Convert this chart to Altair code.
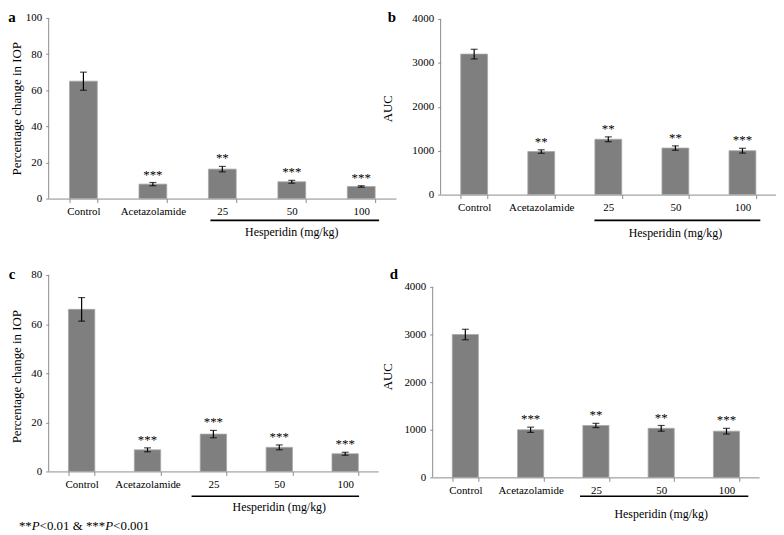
import altair as alt
import pandas as pd

categories = ["Control", "Acetazolamide", "25", "50", "100"]

a_mean = [65.0, 8.0, 16.3, 9.3, 6.7]
a_err = [5.0, 0.9, 1.5, 0.8, 0.4]
a_stars = ["", "***", "**", "***", "***"]

b_mean = [3200, 980, 1260, 1060, 1000]
b_err = [110, 40, 55, 50, 55]
b_stars = ["", "**", "**", "**", "***"]

c_mean = [66.0, 8.8, 15.2, 9.8, 7.2]
c_err = [4.8, 0.8, 1.5, 1.0, 0.6]
c_stars = ["", "***", "***", "***", "***"]

d_mean = [3000, 1000, 1090, 1030, 970]
d_err = [110, 55, 45, 60, 60]
d_stars = ["", "***", "**", "**", "***"]

iop_ticks_a = [0, 20, 40, 60, 80, 100]
iop_ticks_c = [0, 20, 40, 60, 80]
auc_ticks = [0, 1000, 2000, 3000, 4000]

iop_title = "Percentage change in IOP"
auc_title = "AUC"
group_label = "Hesperidin (mg/kg)"
group_from, group_mid, group_to = "25", "50", "100"
foot_parts = ["**", "P", "<0.01 & ***", "P", "<0.001"]
foot_styles = ["normal", "italic", "normal", "italic", "normal"]

FONT = "Liberation Serif"
AXIS_GRAY = "#8c8c8c"
BAR_GRAY = "#7f7f7f"


def panel(letter, mean, err, stars, ymax, ticks, ytitle, width, height,
          top_px, bottom_px, title_pad, line_y, line_dx0, line_dx1, label_y,
          letter_xy, extra=()):
    k = (bottom_px - top_px) / ymax
    lo_dom = (bottom_px - height) / k
    dom = [lo_dom if lo_dom < 0 else 0, ymax + top_px / k]
    df = pd.DataFrame({
        "cat": categories,
        "mean": mean,
        "lo": [m - e for m, e in zip(mean, err)],
        "hi": [m + e for m, e in zip(mean, err)],
        "star": stars,
    })
    xscale = alt.Scale(domain=categories, paddingInner=0.6, paddingOuter=0.3)
    yscale = alt.Scale(domain=dom, nice=False, zero=False)
    xaxis = alt.Axis(title=None, labelAngle=0, tickBand="extent",
                     domainColor=AXIS_GRAY, tickColor=AXIS_GRAY, tickSize=4,
                     labelFont=FONT, labelFontSize=11, labelColor="black",
                     labelPadding=3, offset=bottom_px - height, grid=False)
    yaxis = alt.Axis(title=ytitle, values=ticks, tickCount=len(ticks),
                     grid=False, domain=False, format="d",
                     tickColor=AXIS_GRAY, tickSize=3, labelOverlap=False,
                     labelFont=FONT, labelFontSize=11, labelColor="black",
                     labelPadding=4, titleFont=FONT, titleFontSize=13,
                     titleFontWeight="normal", titleColor="black",
                     titlePadding=title_pad)
    base = alt.Chart(df)
    bars = base.mark_bar(color=BAR_GRAY, stroke="#a8a8a8", strokeWidth=0.8).encode(
        x=alt.X("cat:N", scale=xscale, axis=xaxis),
        y=alt.Y("mean:Q", scale=yscale, axis=yaxis),
        y2=alt.Y2(datum=0),
    )
    yline = alt.Chart(pd.DataFrame({"v": [0]})).mark_rule(
        color=AXIS_GRAY, strokeWidth=1).encode(
        x=alt.value(0),
        y=alt.Y(datum=0, scale=yscale, axis=yaxis),
        y2=alt.Y2(datum=ymax),
    )
    ebar = base.mark_rule(color="black", strokeWidth=1.2).encode(
        x=alt.X("cat:N", scale=xscale),
        y=alt.Y("lo:Q", scale=yscale, axis=yaxis),
        y2="hi:Q",
    )
    cap_hi = base.mark_tick(color="black", size=7, thickness=1.2).encode(
        x=alt.X("cat:N", scale=xscale),
        y=alt.Y("hi:Q", scale=yscale, axis=yaxis),
    )
    cap_lo = base.mark_tick(color="black", size=7, thickness=1.2).encode(
        x=alt.X("cat:N", scale=xscale),
        y=alt.Y("lo:Q", scale=yscale, axis=yaxis),
    )
    star_txt = base.mark_text(font=FONT, fontSize=13, color="black",
                              baseline="middle", dy=-8).encode(
        x=alt.X("cat:N", scale=xscale),
        y=alt.Y("hi:Q", scale=yscale, axis=yaxis),
        text="star:N",
    )
    gdf = pd.DataFrame({"g0": [group_from], "g1": [group_to],
                        "gm": [group_mid], "label": [group_label]})
    gline = alt.Chart(gdf).mark_rule(color="black", strokeWidth=1.6,
                                     xOffset=line_dx0, x2Offset=line_dx1).encode(
        x=alt.X("g0:N", scale=xscale),
        x2="g1:N",
        y=alt.value(line_y),
    )
    gtext = alt.Chart(gdf).mark_text(font=FONT, fontSize=12, color="black",
                                     baseline="middle").encode(
        x=alt.X("gm:N", scale=xscale),
        y=alt.value(label_y),
        text="label:N",
    )
    ltext = alt.Chart(pd.DataFrame({"t": [letter]})).mark_text(
        font=FONT, fontSize=15, fontWeight="bold", color="black",
        baseline="alphabetic", align="center").encode(
        x=alt.value(letter_xy[0]), y=alt.value(letter_xy[1]), text="t:N")
    return alt.layer(bars, yline, ebar, cap_hi, cap_lo, star_txt, gline, gtext,
                     ltext, *extra).properties(width=width, height=height)


# footnote with italic P (approximate glyph widths at 13px)
seg_widths = [13.0, 7.9, 66.2, 7.9, 36.6]
foot_layers = []
x0 = -30
for txt, style, w in zip(foot_parts, foot_styles, seg_widths):
    foot_layers.append(
        alt.Chart(pd.DataFrame({"t": [txt]})).mark_text(
            font=FONT, fontSize=13, fontStyle=style, color="black",
            align="left", baseline="middle").encode(
            x=alt.value(x0), y=alt.value(253), text="t:N"))
    x0 += w

pa = panel("a", a_mean, a_err, a_stars, 100, iop_ticks_a, iop_title, 350, 182,
           0, 182, 2, 204, -12, 18, 216, (-37, 4))
pb = panel("b", b_mean, b_err, b_stars, 4000, auc_ticks, auc_title, 338, 182,
           1, 178, 18, 204, -14, 18, 217, (-49, 4))
pc = panel("c", c_mean, c_err, c_stars, 80, iop_ticks_c, iop_title, 332, 204,
           0, 198, 7.5, 223, -22, 14, 234, (-37, 4), foot_layers)
pd_ = panel("d", d_mean, d_err, d_stars, 4000, auc_ticks, auc_title, 329, 204,
            12, 204, 9, 223, -16, 22, 241, (-39, 4))

row1 = alt.hconcat(pa, pb, spacing=45, bounds="flush")
row2 = alt.hconcat(pc, pd_, spacing=55, bounds="flush")
chart = alt.vconcat(row1, row2, spacing=28).properties(
    padding=0, background="white"
).configure_view(strokeWidth=0).configure_axis(
    domainWidth=1, tickWidth=1, labelOverlap=False
)

chart.save("out.html", embed_options={"renderer": "svg", "actions": False})
